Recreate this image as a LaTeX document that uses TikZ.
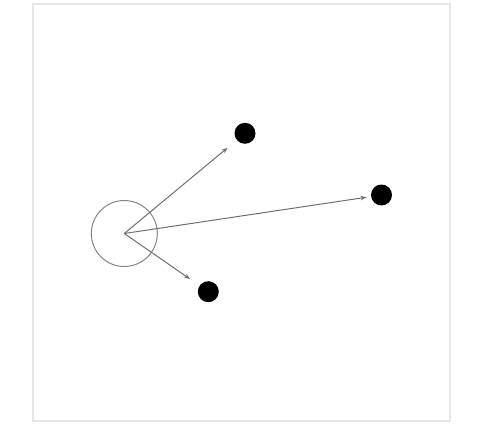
\documentclass[tikz,border=0pt]{standalone}
\usetikzlibrary{arrows.meta}
\definecolor{framegray}{HTML}{E6E6E6}
\definecolor{linegray}{HTML}{6E6E6E}
\definecolor{ringgray}{HTML}{858585}
\begin{document}
\begin{tikzpicture}[x=1pt,y=-1pt,
  dotnode/.style={circle,fill=black,inner sep=0pt,minimum size=21pt},
  ring/.style={circle,draw=ringgray,line width=1pt,inner sep=0pt,minimum size=66pt},
  arr/.style={draw=linegray,line width=1pt,-{Stealth[length=6pt,width=4.5pt]}}]
\useasboundingbox (0,0) rectangle (488,428);
\draw[framegray,line width=2pt] (33,4) rectangle (450,421);
\node[ring] (c) at (124.3,233.5) {};
\node[dotnode] (d1) at (245,133.3) {};
\node[dotnode] (d2) at (381.5,195) {};
\node[dotnode] (d3) at (208.3,291.7) {};
\draw[arr,shorten >=12pt] (c.center) -- (d1);
\draw[arr,shorten >=4.5pt] (c.center) -- (d2);
\draw[arr,shorten >=11.5pt] (c.center) -- (d3);
\end{tikzpicture}
\end{document}
